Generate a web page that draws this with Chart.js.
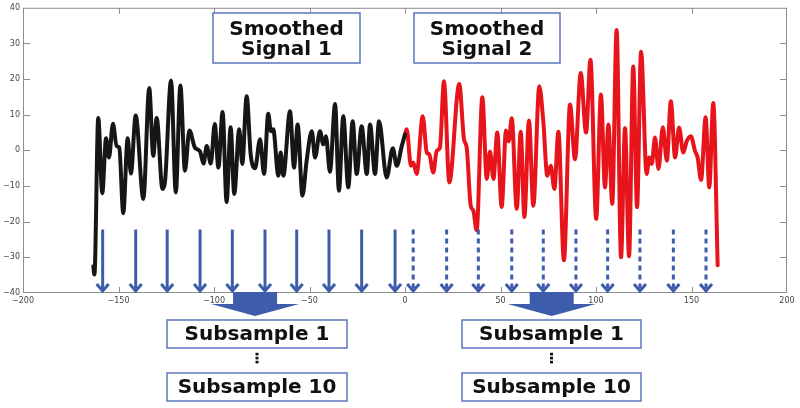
<!DOCTYPE html>
<html><head><meta charset="utf-8">
<script src="https://cdn.jsdelivr.net/npm/chart.js@4.4.1/dist/chart.umd.min.js"></script>
<style>html,body{margin:0;padding:0;background:#fff;}#wrap{width:800px;height:408px;position:relative;}</style>
</head><body><div id="wrap"><canvas id="c" width="800" height="408"></canvas></div>
<script>
// ---- data ----
const blackX = [-163.2,-162.6,-160.6,-158.5,-156.5,-155,-152.9,-151,-149.6,-147.5,-145.2,-143.5,-141,-137,-133.9,-131.8,-130,-127,-125.7,-122.5,-120,-117.6,-115.2,-112.9,-110,-107.3,-105.5,-103.8,-101.7,-99.6,-97.7,-95.5,-93.4,-91.3,-89.4,-86.8,-85.2,-82.9,-80.8,-78.5,-75.9,-73.8,-71.6,-70.2,-69,-66.3,-65.1,-63.7,-60.2,-58.1,-56.2,-53.7,-51.5,-48.8,-47.1,-44.5,-42.8,-41.4,-39.3,-36.6,-34.6,-32.3,-29.7,-27.4,-25.3,-22.7,-20,-18.3,-15.7,-13.6,-9.6,-6.4,-4.3,-1.7,0];
const blackY = [-32.5,-34.8,9.1,-12,3.4,-2,7.5,1.2,0.8,-17.6,3.4,-6.5,9.8,-13.6,17.5,-1.5,9.1,-10.8,-9,19.6,-11.8,18.2,-5.7,5.6,0.8,-0.3,-3.7,1.2,-3.7,7.4,-4.8,10.8,-14.5,6.5,-12.2,5.9,-3.8,15.2,-1.1,-5,3.1,-6.6,10.3,5.4,5.9,-7.1,-0.6,-7.1,11,-4.8,7.3,-12.7,-2.9,5.4,-2,5.4,1.7,4,-6,13,-11.3,9.6,-10.4,8.2,-6.6,6.8,-6.6,7.3,-6.6,8.2,-7.6,0.6,-4.3,1.2,4.5];
const redX = [0,0.9,3.1,4.3,6.1,9.3,11.4,12.7,14.8,16.6,18.3,20.4,23.2,28.4,30.9,32.3,34.4,35.8,37.5,40.5,42.8,44.5,46.3,48.3,50.6,52.9,54.3,55.9,58.5,60.6,62.5,64.9,67.2,70.3,72.4,74.5,76.3,78.2,80.3,83.2,86.4,89,92,94.8,97.1,100.1,102.6,104.7,106.5,108.5,110.8,113.1,115.2,117.3,119.5,121.5,123.6,126.5,127.9,129.2,130.9,132.7,135,137.1,139.2,141.4,143.5,145.7,147.5,149.7,151.8,153.2,155,157.4,159.3,161.4,163.7];
const redY = [4.5,5.9,-4.3,-3.4,-6.6,9.6,-0.6,-1.1,-6.2,-0.1,0.8,19.4,-9,18.6,3.1,0.8,-15.5,-16.9,-22.4,14.9,-8,-0.3,-8,5,-15.9,5.6,2.5,9,-16.4,5.2,-18.7,8.4,-15.5,18,8.2,-7.1,-4.3,-10.8,5.2,-30.8,12.9,-2.5,21.7,5,25.4,-19.2,15.7,-10.4,7.3,-15,33.8,-30,6.2,-29.7,23.5,-15.9,27.7,-6.6,-2,-3.8,3.6,-5.2,6.5,-2.9,13.8,-2,6.4,-0.6,2.6,4,-0.1,-2,-8.3,9.3,-10.4,13.3,-32.2];
const xTickValues = [-200,-150,-100,-50,0,50,100,150,200];
const yTickValues = [-40,-30,-20,-10,0,10,20,30,40];
const solidArrowX = [-158.3,-141,-124.5,-107.3,-90.4,-73.3,-56.7,-39.8,-22.7,-5.2];
const dashedArrowX = [4.3,21.8,38.4,55.9,72.4,89.5,106.1,123,140.5,157.6];
const arrowTopY = -22.2;
const blockArrowX = [-78.5, 76.8];
const signalBoxLabels = [['Smoothed','Signal 1'],['Smoothed','Signal 2']];
const subsampleLabels = ['Subsample 1','Subsample 10'];

const fmt = v => (v < 0 ? '\u2212' + Math.abs(v) : String(v));
const toPts = (xs, ys) => xs.map((x, i) => ({x, y: ys[i]}));

const BLUE = 'rgb(62,92,172)';
const BOXBLUE = 'rgb(92,118,192)';

const decor = {
  id: 'decor',
  beforeDatasetsDraw(chart) {
    const {ctx, chartArea: a, scales: {x, y}} = chart;
    ctx.save();
    ctx.strokeStyle = '#8e8e8e';
    ctx.lineWidth = 1;
    ctx.strokeRect(a.left + 0.5, a.top + 0.5, a.right - a.left - 1, a.bottom - a.top - 1);
    ctx.beginPath();
    xTickValues.slice(1, -1).forEach(v => {
      const px = Math.round(x.getPixelForValue(v)) + 0.5;
      ctx.moveTo(px, a.bottom); ctx.lineTo(px, a.bottom - 6);
      ctx.moveTo(px, a.top); ctx.lineTo(px, a.top + 6);
    });
    yTickValues.slice(1, -1).forEach(v => {
      const py = Math.round(y.getPixelForValue(v)) + 0.5;
      ctx.moveTo(a.left, py); ctx.lineTo(a.left + 7, py);
      ctx.moveTo(a.right, py); ctx.lineTo(a.right - 7, py);
    });
    ctx.stroke();
    ctx.restore();
  },
  afterDatasetsDraw(chart) {
    const {ctx, chartArea: a, scales: {x, y}} = chart;
    ctx.save();
    const top = y.getPixelForValue(arrowTopY);
    const bot = y.getPixelForValue(-40) - 1;
    const drawArrow = (xv, dashed) => {
      const px = x.getPixelForValue(xv);
      ctx.strokeStyle = BLUE;
      ctx.lineWidth = 3;
      ctx.setLineDash(dashed ? [5, 4] : []);
      ctx.beginPath(); ctx.moveTo(px, top); ctx.lineTo(px, bot - 2); ctx.stroke();
      ctx.setLineDash([]);
      ctx.beginPath();
      ctx.moveTo(px - 6, bot - 8); ctx.lineTo(px, bot - 1); ctx.lineTo(px + 6, bot - 8);
      ctx.stroke();
    };
    solidArrowX.forEach(v => drawArrow(v, false));
    dashedArrowX.forEach(v => drawArrow(v, true));

    // block arrows
    ctx.fillStyle = BLUE;
    blockArrowX.forEach(v => {
      const cx = x.getPixelForValue(v);
      ctx.beginPath();
      ctx.moveTo(cx - 22, a.bottom - 1);
      ctx.lineTo(cx + 22, a.bottom - 1);
      ctx.lineTo(cx + 22, 304);
      ctx.lineTo(cx + 44, 304);
      ctx.lineTo(cx, 316);
      ctx.lineTo(cx - 44, 304);
      ctx.lineTo(cx - 22, 304);
      ctx.closePath();
      ctx.fill();
    });

    const box = (l, t, r, b) => {
      ctx.fillStyle = '#fff';
      ctx.fillRect(l, t, r - l, b - t);
      ctx.strokeStyle = BOXBLUE;
      ctx.lineWidth = 1.5;
      ctx.strokeRect(l, t, r - l, b - t);
    };
    ctx.font = 'bold 20px "DejaVu Sans"';
    ctx.textAlign = 'center';
    ctx.textBaseline = 'middle';
    // signal boxes
    [[213, 360], [414, 560]].forEach(([l, r], i) => {
      box(l, 13, r, 63);
      ctx.fillStyle = '#111';
      ctx.fillText(signalBoxLabels[i][0], (l + r) / 2, 30);
      ctx.fillText(signalBoxLabels[i][1], (l + r) / 2, 50);
    });
    // subsample boxes
    [[167, 347], [462, 641]].forEach(([l, r]) => {
      box(l, 320, r, 348);
      box(l, 373, r, 401);
      ctx.fillStyle = '#111';
      ctx.font = 'bold 20px "DejaVu Sans"';
      ctx.fillText(subsampleLabels[0], (l + r) / 2, 335);
      ctx.fillText(subsampleLabels[1], (l + r) / 2, 388);
      const cx = (l + r) / 2;
      [354, 358, 362].forEach(yy => { ctx.fillRect(cx - 1.5, yy - 1.2, 3, 2.6); });
    });
    ctx.restore();
  }
};

new Chart(document.getElementById('c'), {
  type: 'scatter',
  data: {
    datasets: [
      {data: toPts(blackX, blackY), showLine: true, borderColor: '#161616', borderWidth: 4, pointRadius: 0, cubicInterpolationMode: 'monotone', borderJoinStyle: 'round', borderCapStyle: 'round'},
      {data: toPts(redX, redY), showLine: true, borderColor: '#e8141c', borderWidth: 4, pointRadius: 0, cubicInterpolationMode: 'monotone', borderJoinStyle: 'round', borderCapStyle: 'round'}
    ]
  },
  options: {
    responsive: false,
    animation: false,
    events: [],
    layout: {padding: {top: 6, right: 13, left: 0, bottom: 0}},
    plugins: {legend: {display: false}, tooltip: {enabled: false}},
    scales: {
      x: {
        type: 'linear', min: -200, max: 200,
        afterBuildTicks: s => { s.ticks = xTickValues.map(v => ({value: v})); },
        afterFit: s => { s.height = 115; },
        grid: {display: false, drawTicks: false}, border: {display: false},
        ticks: {font: {family: 'DejaVu Sans', size: 8}, color: '#454545', padding: 3, maxRotation: 0, autoSkip: false, callback: v => fmt(v)}
      },
      y: {
        type: 'linear', min: -40, max: 40,
        afterBuildTicks: s => { s.ticks = yTickValues.map(v => ({value: v})); },
        afterFit: s => { s.width = 23; },
        grid: {display: false, drawTicks: false}, border: {display: false},
        ticks: {font: {family: 'DejaVu Sans', size: 8}, color: '#454545', padding: 3, autoSkip: false, callback: v => fmt(v)}
      }
    }
  },
  plugins: [decor]
});
</script></body></html>
